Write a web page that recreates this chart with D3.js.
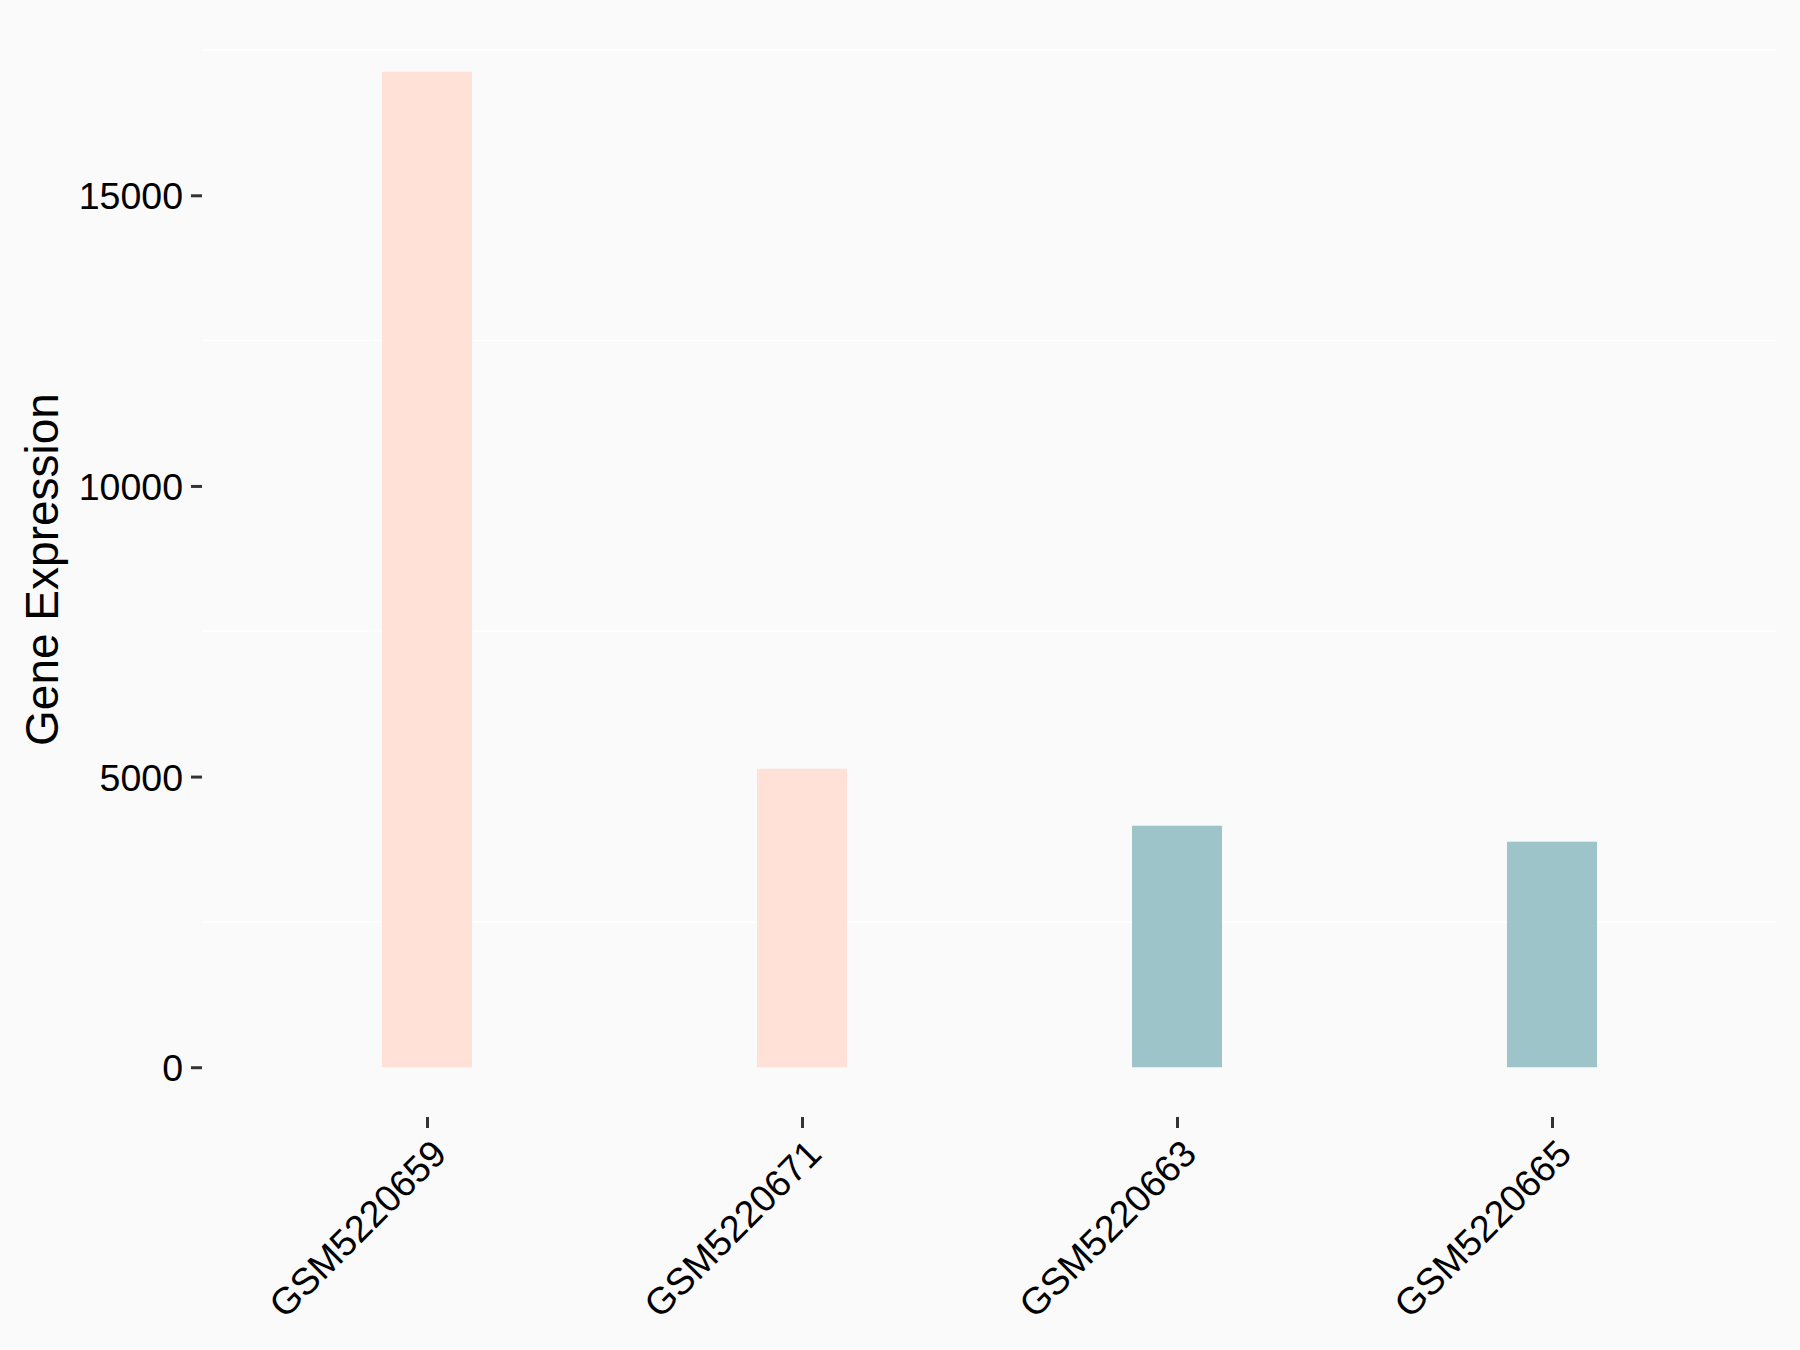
<!DOCTYPE html>
<html>
<head>
<meta charset="utf-8">
<script src="https://cdnjs.cloudflare.com/ajax/libs/d3/7.8.5/d3.min.js"></script>
<style>
  html, body { margin: 0; padding: 0; background: #fafafa; }
  svg { display: block; font-family: Arial, "Liberation Sans", sans-serif; }
</style>
</head>
<body>
<div id="chart"></div>
<script>
var samples = ["GSM5220659", "GSM5220671", "GSM5220663", "GSM5220665"];
var groups = ["high", "high", "low", "low"];
var expression = [17125, 5135, 4155, 3880];
var yTicks = [0, 5000, 10000, 15000];
var gridMinor = [2500, 7500, 12500, 17500];

var width = 1800, height = 1350,
  margin = {top: 22, right: 23, bottom: 233, left: 202};

var color = d3.scaleOrdinal()
  .domain(["high", "low"])
  .range(["#ffe1d8", "#9dc4c8"]);

var svg = d3.select("#chart").append("svg")
  .attr("width", width)
  .attr("height", height);

svg.append("rect")
  .attr("width", width).attr("height", height)
  .attr("fill", "#fafafa");

var pw = width - margin.left - margin.right,
  ph = height - margin.top - margin.bottom;

var g = svg.append("g")
  .attr("transform", "translate(" + margin.left + "," + margin.top + ")");

// ggplot style expansion: 5% on continuous, 0.6 units on discrete
var ymax = d3.max(expression), pad = ymax * 0.05;
var y = d3.scaleLinear()
  .domain([-pad, ymax + pad])
  .range([ph, 0]);

var unit = pw / (samples.length - 1 + 1.2);
var x = d3.scalePoint()
  .domain(samples)
  .range([0.6 * unit, pw - 0.6 * unit]);
var barW = unit * 0.24;

// only the minor grid shows against the background
g.append("g").selectAll("line")
  .data(gridMinor)
  .enter().append("line")
  .attr("x1", 0).attr("x2", pw)
  .attr("y1", function(d) { return y(d); })
  .attr("y2", function(d) { return y(d); })
  .attr("stroke", "#ffffff")
  .attr("stroke-width", 1.5);

// bars
g.append("g").selectAll("rect")
  .data(samples)
  .enter().append("rect")
  .attr("x", function(d) { return x(d) - barW / 2; })
  .attr("width", barW)
  .attr("y", function(d, i) { return y(expression[i]); })
  .attr("height", function(d, i) { return y(0) - y(expression[i]); })
  .attr("fill", function(d, i) { return color(groups[i]); });

// y axis
var yAxis = g.append("g")
  .call(d3.axisLeft(y).tickValues(yTicks).tickSize(11).tickPadding(8).tickFormat(d3.format("d")));
yAxis.select(".domain").remove();
yAxis.selectAll(".tick line").attr("stroke", "#333333").attr("stroke-width", 3);
yAxis.selectAll(".tick text")
  .attr("fill", "#000")
  .style("font-size", "37.5px")
  .attr("dy", "0.36em");

// x axis
var xAxis = g.append("g")
  .attr("transform", "translate(0," + ph + ")")
  .call(d3.axisBottom(x).tickSize(11).tickPadding(0));
xAxis.select(".domain").remove();
xAxis.selectAll(".tick line").attr("stroke", "#333333").attr("stroke-width", 3);
xAxis.selectAll(".tick text")
  .attr("fill", "#000")
  .style("font-size", "37.5px")
  .attr("text-anchor", "end")
  .attr("y", 0).attr("dy", 0)
  .attr("transform", "translate(2,20) rotate(-45) translate(0,27)");

// y title
svg.append("text")
  .attr("transform", "translate(58," + (margin.top + ph / 2) + ") rotate(-90)")
  .attr("text-anchor", "middle")
  .style("font-size", "46px")
  .attr("fill", "#000")
  .text("Gene Expression");
</script>
</body>
</html>
